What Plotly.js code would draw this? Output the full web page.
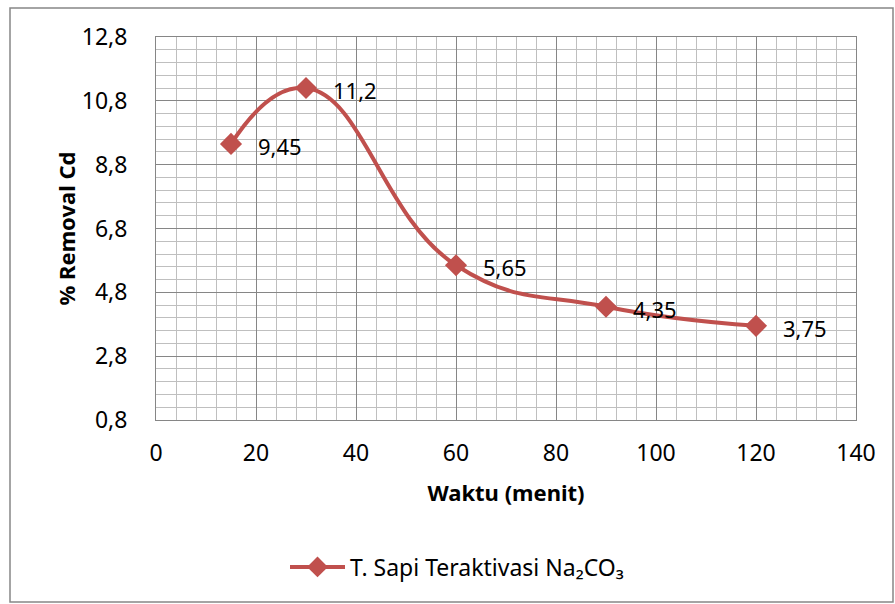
<!DOCTYPE html>
<html><head><meta charset="utf-8">
<script src="https://cdn.plot.ly/plotly-3.0.1.min.js"></script>
<style>html,body{margin:0;padding:0;background:#fff}#chart{width:895px;height:604px}</style>
</head><body><div id="chart"></div>
<script>
const waktu = [15, 30, 60, 90, 120];
const removal = [9.45, 11.2, 5.65, 4.35, 3.75];
const labels = ["9,45", "11,2", "5,65", "4,35", "3,75"];
const seriesName = "T. Sapi Teraktivasi Na₂CO₃";
const color = "#c0504d";
const font = "Noto Sans, Open Sans, sans-serif";

const L = 156, R = 39, T = 37, B = 184, W = 895, H = 604;
const pw = W - L - R, ph = H - T - B;
const px = v => (v - L) / pw, py = v => (H - B - v) / ph;

const trace = {
  x: waktu, y: removal, type: "scatter", mode: "lines+markers",
  name: seriesName,
  line: {color: color, width: 4, shape: "spline", smoothing: 1.3},
  marker: {symbol: "diamond", size: 17, color: color},
};

const annotations = waktu.map((x, i) => ({
  x: x, y: removal[i], text: labels[i], xref: "x", yref: "y",
  xanchor: "left", yanchor: "middle", xshift: 25, yshift: -2, showarrow: false,
  font: {family: font, size: 22, color: "#000"}
}));

const layout = {
  width: W, height: H,
  margin: {l: L, r: R, t: T, b: B},
  separators: ", ",
  paper_bgcolor: "#fff", plot_bgcolor: "#fff",
  font: {family: font, size: 22, color: "#000"},
  showlegend: true,
  legend: {orientation: "h", x: px(285), xanchor: "left", y: py(567), yanchor: "middle",
           font: {family: font, size: 23}, itemwidth: 55},
  xaxis: {
    range: [0, 140], tick0: 0, dtick: 20, showline: true, linecolor: "#868686", mirror: true,
    showgrid: true, gridcolor: "#868686", gridwidth: 1, zeroline: false,
    minor: {dtick: 4, showgrid: true, gridcolor: "#bfbfbf", gridwidth: 1},
    ticks: "", ticklabelstandoff: 12, tickfont: {family: font, size: 23},
    title: {text: "<b>Waktu (menit)</b>", font: {family: font, size: 22}, standoff: 19},
    fixedrange: true
  },
  yaxis: {
    range: [0.8, 12.8], tick0: 0.8, dtick: 2, tickformat: ".1f", showline: true, linecolor: "#868686", mirror: true,
    showgrid: true, gridcolor: "#868686", gridwidth: 1, zeroline: false,
    minor: {dtick: 0.4, showgrid: true, gridcolor: "#bfbfbf", gridwidth: 1},
    ticks: "", ticklabelstandoff: 23, tickfont: {family: font, size: 23},
    title: {text: "<b>% Removal Cd</b>", font: {family: font, size: 22}, standoff: 0},
    fixedrange: true
  },
  annotations: annotations,
  shapes: [{type: "rect", xref: "paper", yref: "paper", x0: px(10), x1: px(893), y0: py(602), y1: py(8),
            line: {color: "#868686", width: 1.5}, fillcolor: "rgba(0,0,0,0)", layer: "below"}]
};

Plotly.newPlot("chart", [trace], layout, {displayModeBar: false, staticPlot: true});
</script></body></html>
